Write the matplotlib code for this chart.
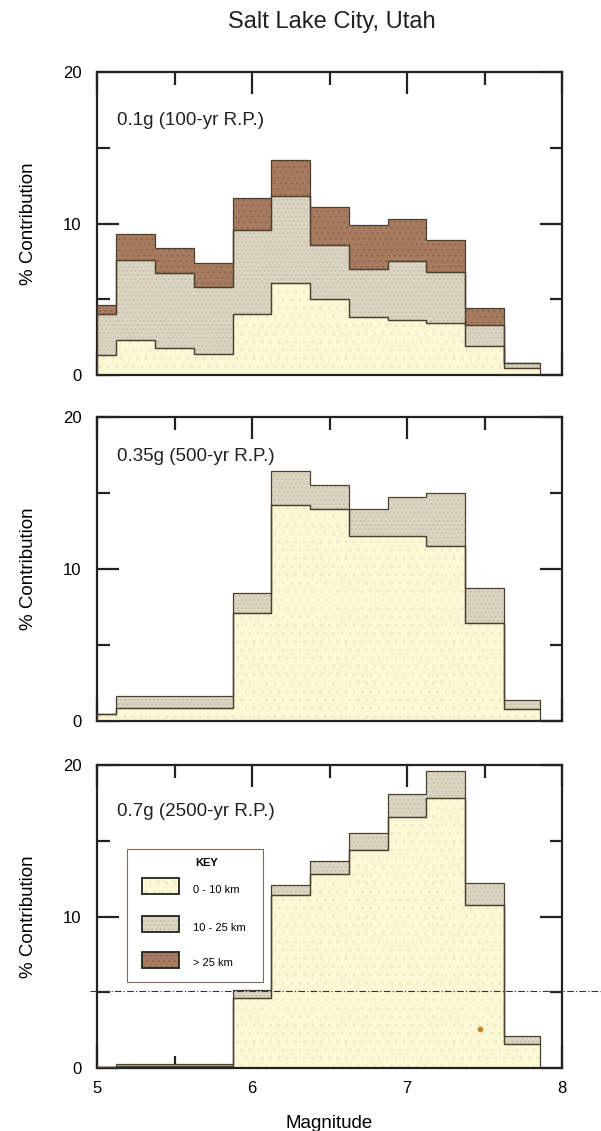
import numpy as np
import matplotlib
matplotlib.use('Agg')
import matplotlib.pyplot as plt
from matplotlib.patches import Rectangle
from matplotlib.lines import Line2D

plt.rcParams['font.family'] = ['Liberation Sans', 'DejaVu Sans']
plt.rcParams['hatch.linewidth'] = 0.6

# magnitude bin edges
edges = [5.0, 5.125, 5.375, 5.625, 5.875, 6.125, 6.375, 6.625, 6.875, 7.125, 7.375, 7.625, 7.86]

# % contribution per distance class, one list per panel
near_100 = [1.3, 2.3, 1.8, 1.4, 4.0, 6.1, 5.0, 3.8, 3.6, 3.4, 1.9, 0.45]
mid_100 = [2.7, 5.3, 4.9, 4.4, 5.6, 5.7, 3.6, 3.2, 3.9, 3.4, 1.4, 0.35]
far_100 = [0.6, 1.7, 1.7, 1.6, 2.1, 2.4, 2.5, 2.9, 2.8, 2.1, 1.1, 0.0]

near_500 = [0.45, 0.85, 0.85, 0.85, 7.1, 14.2, 13.9, 12.15, 12.15, 11.5, 6.4, 0.8]
mid_500 = [0.0, 0.75, 0.75, 0.75, 1.3, 2.2, 1.6, 1.75, 2.55, 3.5, 2.35, 0.55]
far_500 = [0.0] * 12

near_2500 = [0.1, 0.18, 0.18, 0.18, 4.66, 11.4, 12.8, 14.4, 16.6, 17.8, 10.8, 1.58]
mid_2500 = [0.0, 0.11, 0.11, 0.11, 0.5, 0.7, 0.9, 1.1, 1.5, 1.8, 1.4, 0.55]
far_2500 = [0.0] * 12

panel_titles = ['0.1g (100-yr R.P.)', '0.35g (500-yr R.P.)', '0.7g (2500-yr R.P.)']
key_labels = ['0 - 10 km', '10 - 25 km', '> 25 km']

# scanner artefacts in the reference
scan_line_y = 5.1
spot_x, spot_y = [7.47], [2.57]

colors = ['#fcf8d6', '#dad4c1', '#a77b5f']
hatch_cols = ['#ebe5b9', '#c2bba6', '#8d6248']
hatches = ['..', '....', '...']
edge = '#4a4030'

panels = [(near_100, mid_100, far_100), (near_500, mid_500, far_500),
          (near_2500, mid_2500, far_2500)]

fig = plt.figure(figsize=(6.01, 11.31), dpi=100)
W, H = 601, 1131
boxes = [(72, 375), (416.7, 720.7), (765, 1068.3)]
axes = []
for (top, bot) in boxes:
    ax = fig.add_axes([97 / W, 1 - bot / H, 465 / W, (bot - top) / H])
    axes.append(ax)

for i, ax in enumerate(axes):
    near, mid, far = [np.array(a) for a in panels[i]]
    layers = [near, mid, far]
    base = np.zeros(len(near))
    for j, vals in enumerate(layers):
        if not vals.any():
            base = base + vals
            continue
        ax.stairs(base + vals, edges, baseline=base, fill=True,
                  facecolor=colors[j], edgecolor=hatch_cols[j], hatch=hatches[j],
                  linewidth=0, zorder=2)
        ax.stairs(base + vals, edges, baseline=base, fill=True,
                  facecolor='none', edgecolor=edge, linewidth=0.9, zorder=3)
        base = base + vals

    ax.set_xlim(5, 8)
    ax.set_ylim(0, 20)
    ax.set_xticks([5, 6, 7, 8])
    ax.set_xticks([5.5, 6.5, 7.5], minor=True)
    ax.set_yticks([0, 10, 20])
    ax.set_yticks([5, 15], minor=True)
    ax.tick_params(which='both', direction='in', top=True, right=True, width=1.6,
                   labelsize=12, color='#222222')
    ax.tick_params(which='major', length=16, pad=9)
    ax.tick_params(which='minor', length=9)
    ax.tick_params(axis='y', which='major', pad=11)
    for s in ax.spines.values():
        s.set_linewidth(1.6)
        s.set_color('#222222')
    if i < 2:
        ax.tick_params(labelbottom=False)
    ax.set_ylabel('% Contribution', fontsize=13.5)
    ax.yaxis.set_label_coords(-0.13, 0.5)
    ax.text(0.043, [0.84, 0.868, 0.846][i], panel_titles[i], transform=ax.transAxes,
            fontsize=13.5, va='center', ha='left', color='#222222')

ax3 = axes[2]
ax3.set_xlabel('Magnitude', fontsize=13.5, labelpad=14)

# key
ax3.add_patch(Rectangle((0.0639, 0.2855), 0.2937, 0.4365, transform=ax3.transAxes,
                        facecolor='white', edgecolor='#7a6e5a', linewidth=0.8, zorder=5))
ax3.text(0.236, 0.677, 'KEY', transform=ax3.transAxes, fontsize=8, fontweight='bold',
         ha='center', va='center', zorder=6)
sw_y = [0.5737, 0.4504, 0.3297]
lab_y = [0.588, 0.4616, 0.346]
for j in range(3):
    ax3.add_patch(Rectangle((0.0974, sw_y[j]), 0.0789, 0.053, transform=ax3.transAxes,
                            facecolor=colors[j], edgecolor=hatch_cols[j], hatch=hatches[j],
                            linewidth=0, zorder=6))
    ax3.add_patch(Rectangle((0.0974, sw_y[j]), 0.0789, 0.053, transform=ax3.transAxes,
                            facecolor='none', edgecolor='#222222', linewidth=1.3, zorder=7))
    ax3.text(0.207, lab_y[j], key_labels[j], transform=ax3.transAxes, fontsize=8,
             ha='left', va='center', zorder=7)

# scan artefacts
yline = ax3.transData.transform((5, scan_line_y))[1] / fig.dpi / 11.31
fig.add_artist(Line2D([90 / W, 1.0], [yline, yline], transform=fig.transFigure,
                      color='#333333', linewidth=0.8, linestyle=(0, (6, 2, 1, 2))))
ax3.scatter(spot_x, spot_y, s=10, color='#c8862e', zorder=4)

fig.text(332 / W, 1 - 22 / H, 'Salt Lake City, Utah', fontsize=17, ha='center', va='center',
         color='#222222')

fig.savefig('out.png', dpi=100)
